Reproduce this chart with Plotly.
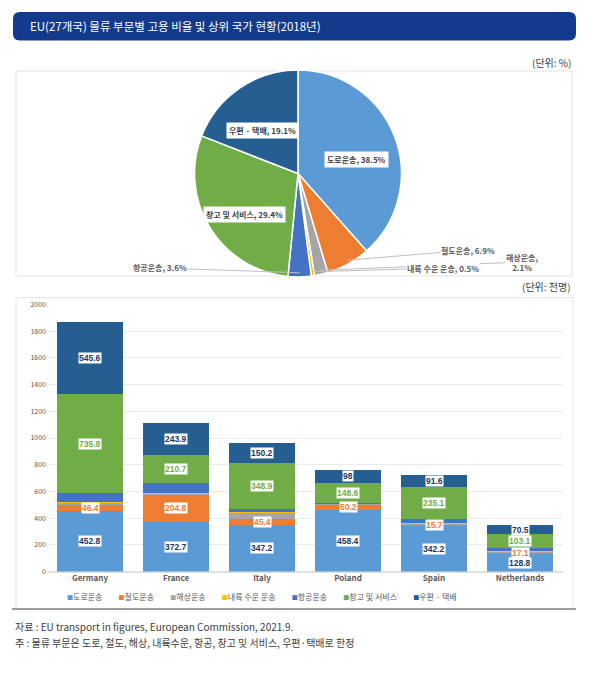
import math
import plotly.graph_objects as go

W, H = 597, 676
FONT = "Noto Sans CJK KR"
NUM_FONT = "Liberation Sans"

# ---------------- data ----------------
title_text = "EU(27개국) 물류 부문별 고용 비율 및 상위 국가 현황(2018년)"
series_names = ["도로운송", "철도운송", "해상운송", "내륙 수운 운송", "항공운송", "창고 및 서비스", "우편 · 택배"]
pie_values = [38.5, 6.9, 2.1, 0.5, 3.6, 29.4, 19.1]

countries = ["Germany", "France", "Italy", "Poland", "Spain", "Netherlands"]
road = [452.8, 372.7, 347.2, 458.4, 342.2, 128.8]
rail = [46.4, 204.8, 45.4, 50.2, 15.7, 17.1]
sea = [22, 8, 52, 3, 6, 6]
inland = [3, 2, 3, 1, 2, 3]
air = [66, 74, 17, 4, 29, 21]
warehouse = [735.8, 210.7, 348.9, 148.6, 235.1, 103.1]
postal = [545.6, 243.9, 150.2, 98, 91.6, 70.5]
bar_series = [road, rail, sea, inland, air, warehouse, postal]
labelled_series = [0, 1, 5, 6]

colors = ["#5B9BD5", "#ED7D31", "#A5A5A5", "#FFC000", "#4472C4", "#70AD47", "#255E91"]
label_colors = {0: "#203864", 1: "#ED7D31", 5: "#70AD47", 6: "#203864"}

source_lines = [
    "자료 : EU transport in figures, European Commission, 2021.9.",
    "주 : 물류 부문은 도로, 철도, 해상, 내륙수운, 항공, 창고 및 서비스, 우편·택배로 한정",
]


def px(x):
    return x / W


def py(y):
    return 1 - y / H


fig = go.Figure()

# ---------------- pie ----------------
cx, cy, r = 298, 170, 105
fig.add_trace(go.Pie(
    labels=series_names, values=pie_values, sort=False, direction="clockwise",
    rotation=0, textinfo="none", showlegend=False,
    marker=dict(colors=colors, line=dict(color="white", width=1.5)),
    domain=dict(x=[px(cx - r), px(cx + r)], y=[py(cy + r), py(cy - r)]),
))

annotations = []
total = sum(pie_values)
cum = 0
# outside label locations for the small slices (pixels)
outside = {1: (468, 248), 2: (522, 260), 3: (443, 266), 4: (160, 266)}
for i, (name, v) in enumerate(zip(series_names, pie_values)):
    th = 2 * math.pi * (cum + v / 2) / total
    cum += v
    txt = f"{name}, {v}%"
    if i in outside:
        ex = cx + 0.96 * r * math.sin(th)
        ey = cy - 0.96 * r * math.cos(th)
        lx, ly = outside[i]
        if i == 2:
            txt = f"{name},<br>{v}%"
        annotations.append(dict(
            x=px(ex), y=py(ey), xref="paper", yref="paper", text=f"<b>{txt}</b>",
            showarrow=True, arrowhead=0, arrowwidth=1, arrowcolor="#BFBFBF",
            ax=lx - ex, ay=ly - ey, font=dict(family=FONT, size=8, color="#595959"),
            bgcolor="white", borderpad=0,
        ))
    else:
        f = 0.6
        lx = cx + f * r * math.sin(th)
        ly = cy - f * r * math.cos(th)
        annotations.append(dict(
            x=px(lx), y=py(ly), xref="paper", yref="paper", text=f"<b>{txt}</b>",
            showarrow=False, font=dict(family=FONT, size=8, color="#404040"),
            bgcolor="white", borderpad=2,
        ))

# ---------------- stacked bars ----------------
for name, vals, col in zip(series_names, bar_series, colors):
    fig.add_trace(go.Bar(x=countries, y=vals, name=name, showlegend=False,
                         marker=dict(color=col, line=dict(width=0))))

for ci, c in enumerate(countries):
    base = 0
    for si, vals in enumerate(bar_series):
        v = vals[ci]
        if si in labelled_series:
            annotations.append(dict(
                x=c, y=base + v / 2, xref="x", yref="y", text=f"<b>{v:g}</b>",
                showarrow=False, font=dict(family=NUM_FONT, size=8.5, color=label_colors[si]),
                bgcolor="white", borderpad=0,
            ))
        base += v

# legend row built from the series names / colours
legend_text = ("&nbsp;" * 9).join(
    f"<span style='color:{c};font-size:6px'>■</span>{n}" for n, c in zip(series_names, colors))
annotations.append(dict(x=px(262), y=py(599), xref="paper", yref="paper", xanchor="center", yanchor="middle",
                        text=legend_text, showarrow=False, font=dict(family=FONT, size=8, color="#595959")))

# ---------------- texts ----------------
annotations.append(dict(x=px(28), y=py(20.5), xref="paper", yref="paper", xanchor="left", yanchor="middle",
                        text=title_text, showarrow=False, font=dict(family=FONT, size=11.5, color="white")))
annotations.append(dict(x=px(573), y=py(57), xref="paper", yref="paper", xanchor="right", yanchor="middle",
                        text="(단위: %)", showarrow=False, font=dict(family=FONT, size=10, color="#404040")))
annotations.append(dict(x=px(573), y=py(285), xref="paper", yref="paper", xanchor="right", yanchor="middle",
                        text="(단위: 천명)", showarrow=False, font=dict(family=FONT, size=10, color="#404040")))
for k, line in enumerate(source_lines):
    annotations.append(dict(x=px(13), y=py(630 + 16 * k), xref="paper", yref="paper", xanchor="left",
                            yanchor="middle", text=line, showarrow=False,
                            font=dict(family=FONT, size=10, color="#404040")))

# ---------------- shapes ----------------
x0, x1, y0, y1, rr = 13, 576, 6, 35, 7
path = (f"M {px(x0 + rr)},{py(y0)} L {px(x1 - rr)},{py(y0)} Q {px(x1)},{py(y0)} {px(x1)},{py(y0 + rr)} "
        f"L {px(x1)},{py(y1 - rr)} Q {px(x1)},{py(y1)} {px(x1 - rr)},{py(y1)} "
        f"L {px(x0 + rr)},{py(y1)} Q {px(x0)},{py(y1)} {px(x0)},{py(y1 - rr)} "
        f"L {px(x0)},{py(y0 + rr)} Q {px(x0)},{py(y0)} {px(x0 + rr)},{py(y0)} Z")
shapes = [
    dict(type="path", path=path, xref="paper", yref="paper", fillcolor="#143A8C", line=dict(width=0), layer="below"),
    dict(type="rect", xref="paper", yref="paper", x0=px(16), x1=px(572), y0=py(274), y1=py(66),
         line=dict(color="#E3E3E3", width=1), layer="below"),
    dict(type="rect", xref="paper", yref="paper", x0=px(16), x1=px(573), y0=py(612), y1=py(296),
         line=dict(color="#E3E3E3", width=1), layer="below"),
    dict(type="line", xref="paper", yref="paper", x0=px(12), x1=px(576), y0=py(612), y1=py(612),
         line=dict(color="#7F7F7F", width=1.5)),
]

fig.update_layout(
    width=W, height=H, margin=dict(l=0, r=0, t=0, b=0),
    paper_bgcolor="white", plot_bgcolor="white",
    font=dict(family=FONT, color="#595959"),
    barmode="stack", bargap=0.24, showlegend=False,
    xaxis=dict(domain=[px(47), px(563)], tickfont=dict(size=8, color="#595959", weight="bold"),
               showline=False, ticks="", fixedrange=True),
    yaxis=dict(domain=[py(574), py(303)], range=[0, 2000], dtick=200, gridcolor="#EBEBEB",
               zerolinecolor="#E0E0E0", tickfont=dict(size=7, color="#595959"), ticks="", fixedrange=True),
    annotations=annotations, shapes=shapes,
)

fig.write_html("out.html", config={"displayModeBar": False},
               post_script="document.body.style.margin='0';")
